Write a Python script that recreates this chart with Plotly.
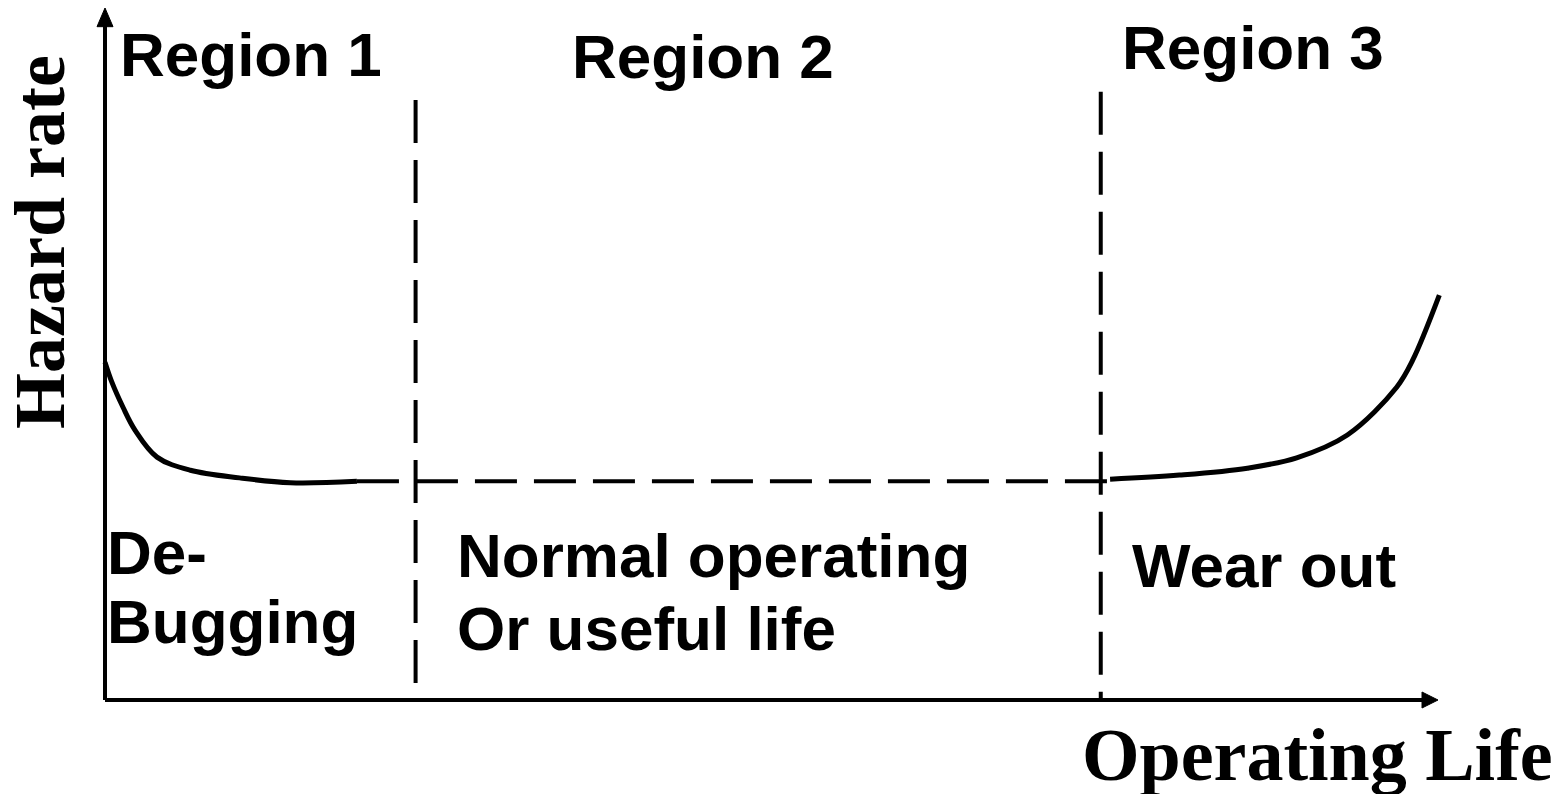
import plotly.graph_objects as go

# operating life (0..100 = arrow tip) vs hazard rate (0..100 = arrow tip)
debug_life = [0, 0.5, 1.35, 2.25, 3.9, 6.4, 10.1, 13.9, 18.9]
debug_rate = [48.8, 46.0, 42.3, 39.0, 35.1, 33.2, 32.1, 31.4, 31.6]

wear_life = [75.4, 80.6, 85.7, 89.4, 93.2, 96.9, 98.1, 100.1]
wear_rate = [31.9, 32.5, 33.5, 35.0, 38.3, 45.2, 49.1, 58.5]

useful_life = [18.9, 75.4]
useful_rate = [31.6, 31.6]

boundaries = [23.3, 74.7]
boundary_tops = [86.7, 87.9]

PAGE_W, PAGE_H = 1566, 794
PAD = 8  # default body margin of the html page
W, H = PAGE_W - PAD, PAGE_H - PAD
# axis origin / tips in page pixels
OX, OY = 105, 700
XT, YT = 1438, 8
sx = (XT - OX) / 100.0
sy = (OY - YT) / 100.0

fig = go.Figure()

fig.add_trace(go.Scatter(x=debug_life, y=debug_rate, mode="lines",
                         line=dict(color="black", width=5, shape="spline"),
                         hoverinfo="skip"))
fig.add_trace(go.Scatter(x=wear_life, y=wear_rate, mode="lines",
                         line=dict(color="black", width=5, shape="spline"),
                         hoverinfo="skip"))
fig.add_trace(go.Scatter(x=useful_life, y=useful_rate, mode="lines",
                         line=dict(color="black", width=4, dash="42px,17px"),
                         hoverinfo="skip"))
for bx, top in zip(boundaries, boundary_tops):
    fig.add_trace(go.Scatter(x=[bx, bx], y=[top, 0], mode="lines",
                             line=dict(color="black", width=4, dash="43px,17px"),
                             hoverinfo="skip"))

# axes with arrows
ax_w = 4
hw_x = 8 / sx
hw_y = 8 / sy
fig.add_shape(type="line", x0=0, y0=0, x1=0, y1=97.5,
              line=dict(color="black", width=ax_w))
fig.add_shape(type="line", x0=0, y0=0, x1=98.9, y1=0,
              line=dict(color="black", width=ax_w))
fig.add_shape(type="path",
              path=f"M {-hw_x},97.3 L {hw_x},97.3 L 0,100 Z",
              fillcolor="black", line=dict(color="black", width=1))
fig.add_shape(type="path",
              path=f"M 98.8,{-hw_y} L 98.8,{hw_y} L 100,0 Z",
              fillcolor="black", line=dict(color="black", width=1))

sans = dict(family="Liberation Sans, Arial", size=62, color="black")
serif = dict(family="Liberation Serif, Times New Roman", size=74, color="black")


def at(px, py):
    return dict(x=(px - PAD) / W, y=1 - (py - PAD) / H, xref="paper", yref="paper")


labels = [
    ("<b>Region 1</b>", 118, 54, "left", sans),
    ("<b>Region 2</b>", 570, 57, "left", sans),
    ("<b>Region 3</b>", 1120, 47, "left", sans),
    ("<b>De-</b>", 105, 552, "left", sans),
    ("<b>Bugging</b>", 105, 621, "left", sans),
    ("<b>Normal operating</b>", 455, 555, "left", sans),
    ("<b>Or useful life</b>", 455, 628, "left", sans),
    ("<b>Wear out</b>", 1130, 565, "left", sans),
    ("<b>Operating Life</b>", 1080, 755, "left", serif),
]
for text, px, py, anchor, font in labels:
    fig.add_annotation(text=text, showarrow=False, xanchor=anchor,
                       yanchor="middle", font=font, **at(px, py))

fig.add_annotation(text="<b>Hazard rate</b>", showarrow=False, textangle=-90,
                   xanchor="center", yanchor="middle",
                   font=dict(serif, size=72), **at(40, 242))

fig.update_layout(
    width=W, height=H,
    margin=dict(l=0, r=0, t=0, b=0),
    paper_bgcolor="white", plot_bgcolor="white",
    showlegend=False,
    xaxis=dict(range=[(PAD - OX) / sx, (PAGE_W - OX) / sx], visible=False, fixedrange=True),
    yaxis=dict(range=[(OY - PAGE_H) / sy, (OY - PAD) / sy], visible=False, fixedrange=True),
)

fig.write_html("out.html")
